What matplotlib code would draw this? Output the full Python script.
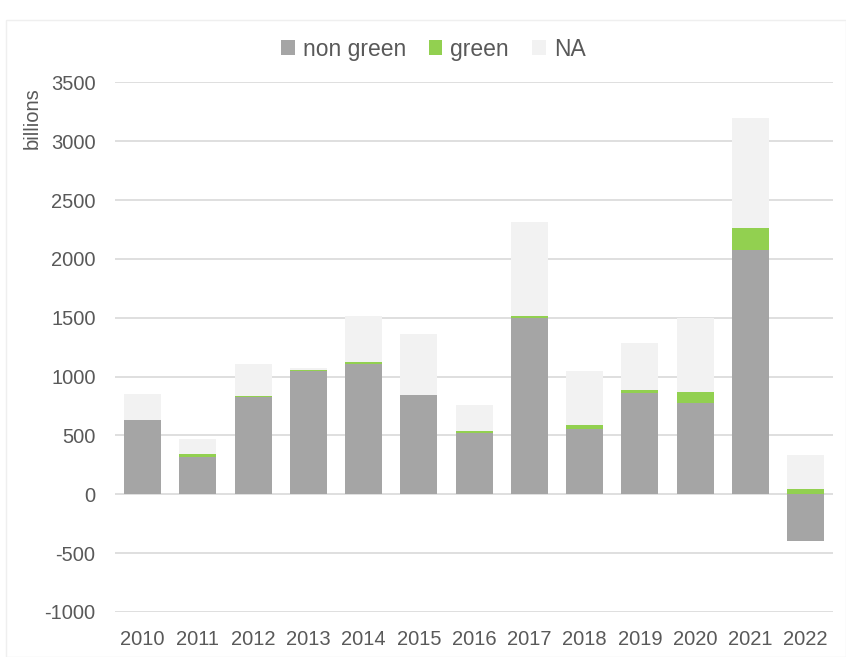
import numpy as np
import matplotlib.pyplot as plt
from matplotlib.patches import Rectangle

years = ["2010", "2011", "2012", "2013", "2014", "2015", "2016",
         "2017", "2018", "2019", "2020", "2021", "2022"]
non_green = [630, 317, 825, 1045, 1110, 840, 520, 1495, 557, 863, 780, 2075, -400]
green = [0, 26, 14, 15, 12, 0, 15, 20, 34, 23, 91, 184, 45]
na = [220, 130, 266, 10, 395, 520, 227, 795, 456, 399, 629, 941, 285]

c_ng = "#A5A5A5"
c_g = "#92D050"
c_na = "#F2F2F2"
txt = "#595959"

plt.rcParams['font.family'] = ['Liberation Sans', 'DejaVu Sans']
plt.rcParams['axes.unicode_minus'] = False

fig = plt.figure(figsize=(8.46, 6.57), dpi=100)
ax = fig.add_axes([0.136, 0.0685, 0.849, 0.806])

x = np.arange(len(years))
ng = np.array(non_green)
g = np.array(green)
n = np.array(na)
pos_base = np.clip(ng, 0, None)

w = 0.67
ax.bar(x, ng, w, color=c_ng, label="non green", zorder=2)
ax.bar(x, g, w, bottom=pos_base, color=c_g, label="green", zorder=2)
ax.bar(x, n, w, bottom=pos_base + g, color=c_na, label="NA", zorder=2)

ax.set_xlim(-0.5, len(years) - 0.5)
ax.set_ylim(-1000, 3500)
ax.set_yticks(np.arange(-1000, 3501, 500))
ax.set_xticks(x)
ax.set_xticklabels(years)
ax.yaxis.grid(True, color="#D9D9D9", linewidth=1.2, zorder=0)
ax.set_axisbelow(True)
for s in ax.spines.values():
    s.set_visible(False)
ax.tick_params(axis="both", length=0, labelsize=14.5, colors=txt)
ax.tick_params(axis="y", pad=14)
ax.tick_params(axis="x", pad=13)

fig.text(0.038, 0.82, "billions", rotation=90, ha="center", va="center",
         fontsize=14.5, color=txt)

leg = fig.legend(loc="center", bbox_to_anchor=(0.512, 0.925), ncol=3, frameon=False,
                 fontsize=16.5, handlelength=0.6, handleheight=0.6, handletextpad=0.35,
                 columnspacing=1.0)
for t in leg.get_texts():
    t.set_color(txt)

fig.patches.append(Rectangle((0.007, 0.0), 0.993, 0.97, transform=fig.transFigure,
                             fill=False, edgecolor="#EFEFEF", linewidth=1))

fig.savefig("out.png", dpi=100)
